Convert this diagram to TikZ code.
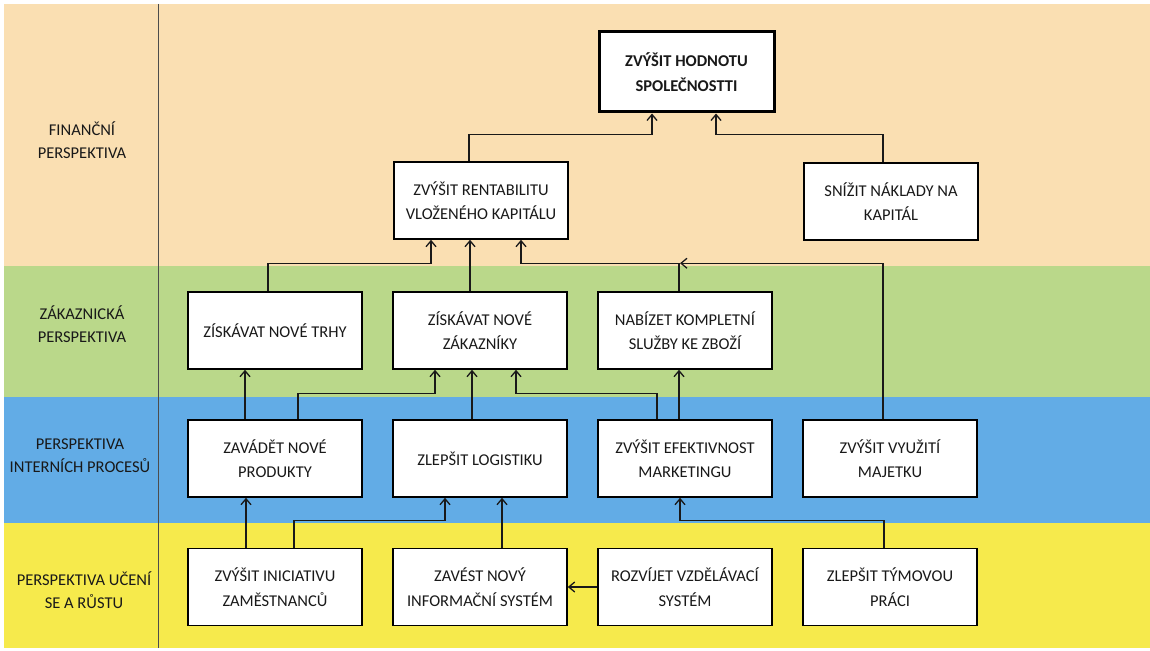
\documentclass[tikz,border=0pt]{standalone}
\usepackage{fontspec}
\setmainfont{Carlito}
\usetikzlibrary{arrows.meta,calc}
\definecolor{finc}{RGB}{250,223,178}
\definecolor{custc}{RGB}{186,216,138}
\definecolor{procc}{RGB}{98,172,230}
\definecolor{learnc}{RGB}{246,234,76}
\definecolor{txt}{RGB}{25,25,25}
\begin{document}
\begin{tikzpicture}[x=1pt,y=-1pt,
  box/.style={draw=black,line width=1.5pt,fill=white,minimum width=174pt,minimum height=77pt,inner sep=0pt,align=center,font=\fontsize{16.5}{24.5}\selectfont,text=txt},
  topbox/.style={box,line width=3pt,minimum width=175pt,minimum height=80pt,font=\fontsize{16.5}{24.5}\selectfont\bfseries},
  lab/.style={align=center,font=\fontsize{16.5}{23}\selectfont,text=txt},
  arr/.style={draw=black!90,line width=1.3pt,-{Straight Barb[length=6pt,width=10pt]}}]
\useasboundingbox (0,0) rectangle (1150,650);
\fill[white] (0,0) rectangle (1150,650);
\fill[finc] (4,4) rectangle (1150,266);
\fill[custc] (4,266) rectangle (1150,397);
\fill[procc] (4,397) rectangle (1150,523);
\fill[learnc] (4,523) rectangle (1150,648);
\draw[black!70,line width=0.8pt] (158,4) -- (158,648);
% left labels
\node[lab] (l1) at (82,140) {FINANČNÍ\\PERSPEKTIVA};
\node[lab] (l2) at (82,324) {ZÁKAZNICKÁ\\PERSPEKTIVA};
\node[lab] (l3) at (80,456) {PERSPEKTIVA\\INTERNÍCH PROCESŮ};
\node[lab] (l4) at (84,590) {PERSPEKTIVA UČENÍ\\SE A RŮSTU};
% boxes
\node[topbox] (top) at (686.5,72) {ZVÝŠIT HODNOTU\\SPOLEČNOSTTI};
\node[box] (rent) at (481,200.5) {ZVÝŠIT RENTABILITU\\VLOŽENÉHO KAPITÁLU};
\node[box] (sniz) at (891,201.5) {SNÍŽIT NÁKLADY NA\\KAPITÁL};
\node[box] (trhy) at (275,330.5) {ZÍSKÁVAT NOVÉ TRHY};
\node[box] (zak) at (480,330.5) {ZÍSKÁVAT NOVÉ\\ZÁKAZNÍKY};
\node[box] (nab) at (685,330.5) {NABÍZET KOMPLETNÍ\\SLUŽBY KE ZBOŽÍ};
\node[box] (zav) at (275,458.5) {ZAVÁDĚT NOVÉ\\PRODUKTY};
\node[box] (log) at (480,458.5) {ZLEPŠIT LOGISTIKU};
\node[box] (efe) at (685,458.5) {ZVÝŠIT EFEKTIVNOST\\MARKETINGU};
\node[box] (vyu) at (890,458.5) {ZVÝŠIT VYUŽITÍ\\MAJETKU};
\node[box] (ini) at (275,587) {ZVÝŠIT INICIATIVU\\ZAMĚSTNANCŮ};
\node[box] (zavest) at (480,587) {ZAVÉST NOVÝ\\INFORMAČNÍ SYSTÉM};
\node[box] (roz) at (685,587) {ROZVÍJET VZDĚLÁVACÍ\\SYSTÉM};
\node[box] (tym) at (890,587) {ZLEPŠIT TÝMOVOU\\PRÁCI};
% connectors: finance
\draw[arr] ([xshift=-12pt]rent.north) -- ++(0,-27) -| ([xshift=-34.5pt]top.south);
\draw[arr] ([xshift=-8pt]sniz.north) -- ++(0,-28) -| ([xshift=29.5pt]top.south);
% customer -> finance
\draw[arr] ([xshift=-7pt]trhy.north) -- ++(0,-28) -| ([xshift=-50pt]rent.south);
\coordinate (z4) at ([xshift=-10pt]zak.north);
\draw[arr] (z4) -- (z4 |- rent.south);
\draw[arr] ([xshift=-6pt]nab.north) -- ++(0,-28) -| ([xshift=40pt]rent.south);
\coordinate (j6) at ([xshift=-5pt,yshift=28pt]nab.north);
\draw[arr] ([xshift=-7pt]vyu.north) -- ++(0,-156) -- (j6);
% process -> customer
\coordinate (p7) at ([xshift=-30pt]zav.north);
\draw[arr] (p7) -- (p7 |- trhy.south);
\draw[arr] ([xshift=23pt]zav.north) -- ++(0,-26) -| ([xshift=-45pt]zak.south);
\coordinate (p9) at ([xshift=-8pt]log.north);
\draw[arr] (p9) -- (p9 |- zak.south);
\draw[arr] ([xshift=-28pt]efe.north) -- ++(0,-26) -| ([xshift=36pt]zak.south);
\coordinate (p11) at ([xshift=-6pt]efe.north);
\draw[arr] (p11) -- (p11 |- nab.south);
% learning -> process
\coordinate (q13) at ([xshift=-29pt]ini.north);
\draw[arr] (q13) -- (q13 |- zav.south);
\draw[arr] ([xshift=19pt]ini.north) -- ++(0,-27) -| ([xshift=-35pt]log.south);
\coordinate (q15) at ([xshift=22pt]zavest.north);
\draw[arr] (q15) -- (q15 |- log.south);
\draw[arr] ([xshift=-6pt]tym.north) -- ++(0,-27) -| ([xshift=-5pt]efe.south);
\draw[arr] (roz.west) -- (zavest.east);
\end{tikzpicture}
\end{document}
